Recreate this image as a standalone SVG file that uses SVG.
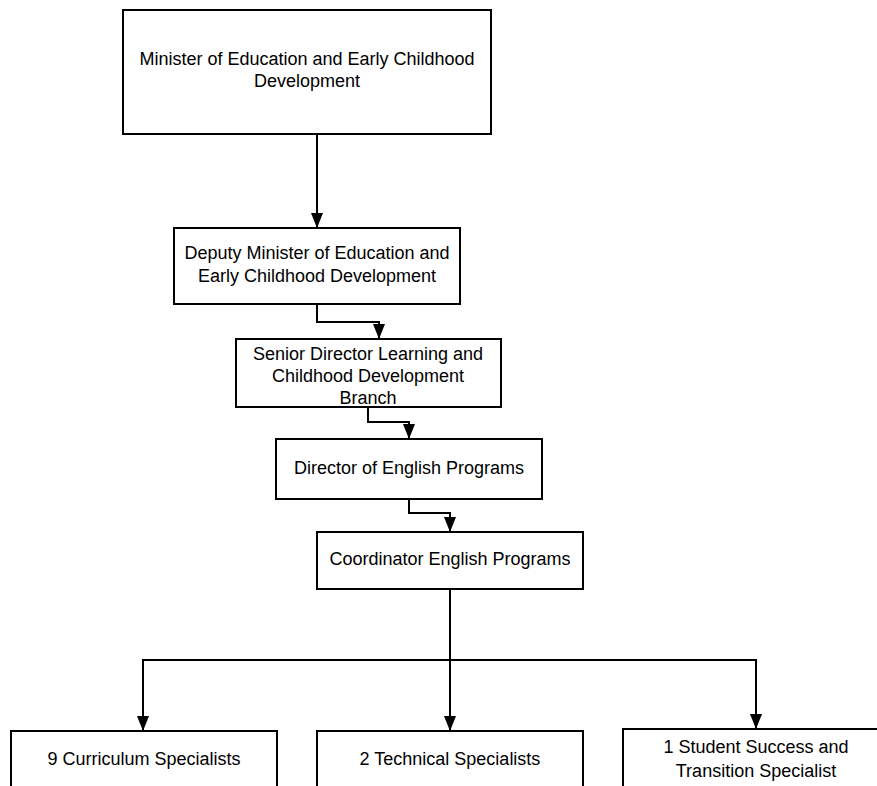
<svg xmlns="http://www.w3.org/2000/svg" width="877" height="786" viewBox="0 0 877 786">
<style>
.box{fill:#ffffff;stroke:#000000;stroke-width:2}
.lbl{font-family:"Liberation Sans",Arial,sans-serif;font-size:18px;fill:#000000;text-anchor:middle}
.edge{fill:none;stroke:#000000;stroke-width:2}
</style>
<defs>
<marker id="arr" viewBox="0 0 15 12" refX="15" refY="6" markerWidth="15" markerHeight="12" markerUnits="userSpaceOnUse" orient="auto">
<path d="M0,0 L15,6 L0,12 z" fill="#000000"/>
</marker>
</defs>
<rect width="877" height="786" fill="#ffffff"/>
<g id="connectors">
<path class="edge" marker-end="url(#arr)" d="M317,134 V228"/>
<path class="edge" marker-end="url(#arr)" d="M317,304 V322 H379 V339"/>
<path class="edge" marker-end="url(#arr)" d="M368,407 V422 H409 V439"/>
<path class="edge" marker-end="url(#arr)" d="M409,499 V513 H450 V532"/>
<path class="edge" marker-end="url(#arr)" d="M450,589 V731"/>
<path class="edge" marker-end="url(#arr)" d="M450,660 H143 V731"/>
<path class="edge" marker-end="url(#arr)" d="M450,660 H756 V729"/>
</g>
<g id="minister">
<rect class="box" x="123" y="10" width="368" height="124"/>
<text class="lbl" x="307" y="65">Minister of Education and Early Childhood</text>
<text class="lbl" x="307" y="87">Development</text>
</g>
<g id="deputy">
<rect class="box" x="174" y="228" width="286" height="76"/>
<text class="lbl" x="317" y="259">Deputy Minister of Education and</text>
<text class="lbl" x="317" y="282">Early Childhood Development</text>
</g>
<g id="senior">
<rect class="box" x="236" y="339" width="265" height="68"/>
<text class="lbl" x="368" y="360">Senior Director Learning and</text>
<text class="lbl" x="368" y="382">Childhood Development</text>
<text class="lbl" x="368" y="404">Branch</text>
</g>
<g id="director">
<rect class="box" x="276" y="439" width="266" height="60"/>
<text class="lbl" x="409" y="474">Director of English Programs</text>
</g>
<g id="coordinator">
<rect class="box" x="317" y="532" width="266" height="57"/>
<text class="lbl" x="450" y="565">Coordinator English Programs</text>
</g>
<g id="curriculum">
<rect class="box" x="11" y="731" width="266" height="70"/>
<text class="lbl" x="144" y="765">9 Curriculum Specialists</text>
</g>
<g id="technical">
<rect class="box" x="317" y="731" width="266" height="70"/>
<text class="lbl" x="450" y="765">2 Technical Specialists</text>
</g>
<g id="student">
<rect class="box" x="623" y="729" width="266" height="72"/>
<text class="lbl" x="756" y="753">1 Student Success and</text>
<text class="lbl" x="756" y="777">Transition Specialist</text>
</g>
</svg>
